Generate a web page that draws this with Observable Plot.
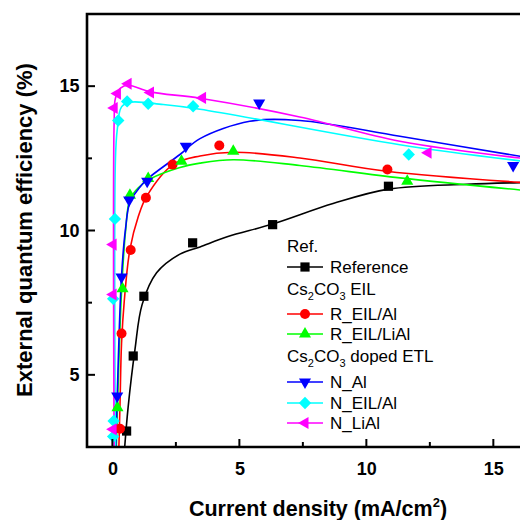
<!DOCTYPE html>
<html>
<head>
<meta charset="utf-8">
<script src="https://cdn.jsdelivr.net/npm/d3@7"></script>
<script src="https://cdn.jsdelivr.net/npm/@observablehq/plot@0.6"></script>
<style>
  html, body { margin: 0; padding: 0; background: #fff; overflow: hidden; }
  #chart { width: 520px; height: 520px; }
</style>
</head>
<body>
<div id="chart"></div>
<script>
// ---- Data ----
const xTicks = [0, 5, 10, 15];
const xMinor = [2.5, 7.5, 12.5];
const yTicks = [5, 10, 15];
const yMinor = [7.5, 12.5];

const seriesNames = ["Reference", "R_EIL/Al", "R_EIL/LiAl", "N_Al", "N_EIL/Al", "N_LiAl"];
const seriesColors = ["#000000", "#ff0000", "#00ff00", "#0000ff", "#00ffff", "#ff00ff"];

const refPts = [[0.54, 3.07], [0.80, 5.67], [1.22, 7.74], [3.14, 9.59], [6.29, 10.22], [10.85, 11.55]];
const rEilAlPts = [[0.28, 3.15], [0.34, 6.45], [0.70, 9.34], [1.30, 11.15], [2.35, 12.30], [4.19, 12.96], [10.81, 12.13]];
const rEilLiAlPts = [[0.18, 3.88], [0.38, 8.0], [0.67, 11.24], [1.39, 11.82], [2.70, 12.42], [4.74, 12.76], [11.59, 11.72]];
const nAlPts = [[0.17, 4.28], [0.34, 8.41], [0.64, 11.07], [1.35, 11.72], [2.87, 12.94], [5.76, 14.43], [15.76, 12.27]];
const nEilAlPts = [[0.01, 2.88], [0.03, 3.42], [0.01, 7.65], [0.08, 10.42], [0.21, 13.83], [0.56, 14.49], [1.39, 14.41], [3.16, 14.32], [11.65, 12.65]];
const nLiAlPts = [[0.01, 3.13], [0.01, 7.80], [0.01, 9.53], [0.05, 14.26], [0.18, 14.76], [0.60, 15.10], [1.48, 14.80], [3.53, 14.61], [12.41, 12.71]];

const refFit = [[0.42, 2.0], [0.6, 3.9], [0.87, 5.9], [1.15, 7.45], [1.72, 8.55], [2.64, 9.2], [3.43, 9.45], [4.5, 9.8], [6.29, 10.24], [8.67, 10.95], [10.85, 11.45], [13.93, 11.62], [16.3, 11.68]];
const rEilAlFit = [[0.22, 2.0], [0.28, 4.0], [0.34, 6.1], [0.45, 7.6], [0.67, 9.36], [1.0, 10.5], [1.33, 11.2], [2.37, 12.3], [3.43, 12.6], [4.74, 12.73], [7.36, 12.53], [10.78, 12.07], [16.3, 11.67]];
const rEilLiAlFit = [[0.12, 2.0], [0.2, 4.5], [0.34, 7.9], [0.5, 10.0], [0.67, 11.1], [1.0, 11.5], [1.46, 11.8], [2.64, 12.2], [3.43, 12.35], [4.74, 12.47], [7.36, 12.27], [11.3, 11.84], [16.3, 11.4]];
const nAlFit = [[0.1, 2.0], [0.17, 4.28], [0.34, 8.44], [0.5, 10.1], [0.67, 11.0], [1.0, 11.45], [1.33, 11.78], [2.64, 12.65], [3.43, 13.2], [5.39, 13.8], [7.36, 13.83], [11.3, 13.28], [16.3, 12.55]];
const nEilAlFit = [[0.1, 2.0], [0.1, 12.5], [0.17, 13.5], [0.34, 14.3], [0.67, 14.46], [1.98, 14.38], [3.43, 14.22], [11.3, 12.99], [16.3, 12.4]];
const nLiAlFit = [[0.05, 2.0], [0.05, 13.8], [0.1, 14.6], [0.3, 14.95], [0.6, 15.05], [1.48, 14.82], [3.43, 14.6], [7.36, 13.95], [11.3, 13.11], [16.3, 12.5]];

const allPts = [refPts, rEilAlPts, rEilLiAlPts, nAlPts, nEilAlPts, nLiAlPts];
const allFits = [refFit, rEilAlFit, rEilLiAlFit, nAlFit, nEilAlFit, nLiAlFit];

// ---- Custom marker shapes ----
function poly(c, pts) { c.moveTo(pts[0][0], pts[0][1]); for (let i = 1; i < pts.length; i++) c.lineTo(pts[i][0], pts[i][1]); c.closePath(); }
const R = 7;
const symSquare = { draw(c) { const h = 4.6; poly(c, [[-h, -h], [h, -h], [h, h], [-h, h]]); } };
const symCircle = { draw(c) { c.moveTo(5, 0); c.arc(0, 0, 5, 0, 2 * Math.PI); } };
const symUp = { draw(c) { poly(c, [[0, -R], [R * 0.866, R * 0.5], [-R * 0.866, R * 0.5]]); } };
const symDown = { draw(c) { poly(c, [[0, R], [R * 0.866, -R * 0.5], [-R * 0.866, -R * 0.5]]); } };
const symDiamond = { draw(c) { const d = 6.2; poly(c, [[0, -d], [d, 0], [0, d], [-d, 0]]); } };
const symLeft = { draw(c) { poly(c, [[-R, 0], [R * 0.5, -R * 0.866], [R * 0.5, R * 0.866]]); } };
const symbols = [symSquare, symCircle, symUp, symDown, symDiamond, symLeft];

const FONT = "'Liberation Sans', Arial, Helvetica, sans-serif";

const marks = [];
allFits.forEach((fit, i) => {
  marks.push(Plot.line(fit, { x: d => d[0], y: d => d[1], stroke: seriesColors[i], strokeWidth: 1.6, curve: "catmull-rom", clip: true }));
});
allPts.forEach((pts, i) => {
  marks.push(Plot.dot(pts, { x: d => d[0], y: d => d[1], symbol: symbols[i], fill: seriesColors[i], stroke: "none", r: 5, clip: true }));
});
marks.push(Plot.axisX(xTicks, { tickSize: 0, tickPadding: 15, fontSize: 18, fontWeight: "bold", fill: "#000", label: null }));
marks.push(Plot.axisY(yTicks, { tickSize: 0, tickPadding: 8, fontSize: 18, fontWeight: "bold", fill: "#000", label: null }));

const plot = Plot.plot({
  width: 520,
  height: 520,
  marginLeft: 87,
  marginRight: 0,
  marginTop: 14,
  marginBottom: 73,
  style: { fontFamily: FONT, background: "#fff", overflow: "visible" },
  x: { domain: [-1, 16.05] },
  y: { domain: [2.5, 17.5] },
  marks
});

document.getElementById("chart").appendChild(plot);

// ---- Frame, ticks, labels, legend ----
const svg = d3.select(plot);
const sx = plot.scale("x"), sy = plot.scale("y");
const X = v => sx.apply(v), Y = v => sy.apply(v);
const x0 = X(-1), x1 = 520, y0 = Y(2.5), y1 = Y(17.5);
const g = svg.append("g").attr("stroke", "#000").attr("fill", "none");
g.append("path").attr("d", `M${x1 + 2},${y1}H${x0}V${y0}H${x1 + 2}`).attr("stroke-width", 2.6).attr("stroke-linejoin", "miter");
xTicks.forEach(t => g.append("line").attr("x1", X(t)).attr("x2", X(t)).attr("y1", y0).attr("y2", y0 - 8).attr("stroke-width", 2));
xMinor.forEach(t => g.append("line").attr("x1", X(t)).attr("x2", X(t)).attr("y1", y0).attr("y2", y0 - 5).attr("stroke-width", 2));
yTicks.forEach(t => g.append("line").attr("x1", x0).attr("x2", x0 + 8).attr("y1", Y(t)).attr("y2", Y(t)).attr("stroke-width", 2));
yMinor.forEach(t => g.append("line").attr("x1", x0).attr("x2", x0 + 5).attr("y1", Y(t)).attr("y2", Y(t)).attr("stroke-width", 2));

const xl = svg.append("text").attr("x", 318).attr("y", 516).attr("text-anchor", "middle")
  .attr("font-family", FONT).attr("font-size", 21.5).attr("font-weight", "bold").attr("fill", "#000");
xl.append("tspan").text("Current density (mA/cm");
xl.append("tspan").attr("font-size", 13).attr("dy", -9).text("2");
xl.append("tspan").attr("dy", 9).text(")");

svg.append("text").attr("transform", "translate(32,230) rotate(-90)").attr("text-anchor", "middle")
  .attr("font-family", FONT).attr("font-size", 22).attr("font-weight", "bold").attr("fill", "#000")
  .text("External quantum efficiency (%)");

// legend
const legendRows = [
  { type: "head", text: "Ref.", y: 246 },
  { type: "item", i: 0, y: 267 },
  { type: "headSub", pre: "Cs", sub1: "2", mid: "CO", sub2: "3", post: " EIL", y: 289 },
  { type: "item", i: 1, y: 314 },
  { type: "item", i: 2, y: 334 },
  { type: "headSub", pre: "Cs", sub1: "2", mid: "CO", sub2: "3", post: " doped ETL", y: 356 },
  { type: "item", i: 3, y: 382 },
  { type: "item", i: 4, y: 403 },
  { type: "item", i: 5, y: 423 }
];
const lg = svg.append("g").attr("font-family", FONT).attr("font-size", 17).attr("fill", "#000").attr("text-anchor", "start");
legendRows.forEach(r => {
  if (r.type === "head") {
    lg.append("text").attr("x", 287).attr("y", r.y).attr("dy", "0.35em").attr("text-anchor", "start").text(r.text);
  } else if (r.type === "headSub") {
    const t = lg.append("text").attr("x", 287).attr("y", r.y).attr("dy", "0.35em").attr("text-anchor", "start");
    t.append("tspan").text(r.pre);
    t.append("tspan").attr("font-size", 11).attr("dy", 5).text(r.sub1);
    t.append("tspan").attr("dy", -5).text(r.mid);
    t.append("tspan").attr("font-size", 11).attr("dy", 5).text(r.sub2);
    t.append("tspan").attr("dy", -5).text(r.post);
  } else {
    const c = seriesColors[r.i];
    lg.append("line").attr("x1", 287).attr("x2", 323).attr("y1", r.y).attr("y2", r.y).attr("stroke", c).attr("stroke-width", 1.6);
    const path = d3.path(); symbols[r.i].draw(path, 0);
    lg.append("path").attr("d", path.toString()).attr("transform", `translate(305,${r.y})`).attr("fill", c);
    lg.append("text").attr("x", 330).attr("y", r.y).attr("dy", "0.35em").attr("text-anchor", "start").text(seriesNames[r.i]);
  }
});
</script>
</body>
</html>
